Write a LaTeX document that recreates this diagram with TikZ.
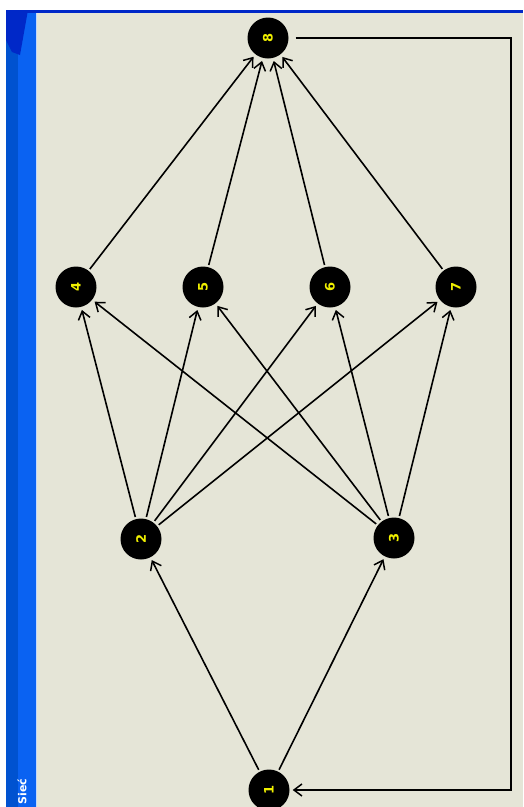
\documentclass[tikz,border=0pt]{standalone}
\usepackage{fontspec}
\usetikzlibrary{arrows.meta}
\usetikzlibrary{positioning}
\usepackage{xcolor}
\newfontfamily\barfont{DejaVu Sans}
\definecolor{panel}{HTML}{E5E5D7}
\definecolor{barblue}{HTML}{0A62F2}
\definecolor{bardark}{HTML}{0052D0}
\definecolor{barnavy}{HTML}{0028C8}
\definecolor{labelyellow}{HTML}{F0F000}

\begin{document}
\begin{tikzpicture}[x=1pt,y=-1pt,
		vertex/.style={circle, fill=black, minimum size=41pt, inner sep=0pt,
			text=labelyellow, font=\barfont\bfseries\fontsize{13}{13}\selectfont, rotate=90},
		link/.style={-{Straight Barb[length=8pt,width=12pt,line width=1.5pt]},
			line width=1.6pt, shorten >=3pt, shorten <=2pt}]
		% window frame
		\useasboundingbox (0,0) rectangle (523,807);
		\fill[white] (0,0) rectangle (523,807);
		\fill[panel] (37,13) rectangle (523,807);
		\fill[barblue] (6,10) rectangle (36,807);
		\fill[bardark] (6,10) rectangle (18,807);
		\fill[barnavy] (6,10) -- (28,10) -- (20,55) -- (12,52) -- (6,40) -- cycle;
		\fill[barnavy] (6,10) rectangle (523,12.5);
		\fill[white!75!barblue] (35.5,13) rectangle (37,807);
		\node[rotate=90, text=white, font=\barfont\bfseries\fontsize{11}{11}\selectfont,
			anchor=west] (title) at (22,808) {Sieć};

		% vertices
		\node[vertex] (n8) at (268,38) {8};
		\node[vertex] (n4) at (76,287) {4};
		\node[vertex] (n5) at (203,287) {5};
		\node[vertex] (n6) at (330,287) {6};
		\node[vertex] (n7) at (456,287) {7};
		\node[vertex] (n2) at (141,539) {2};
		\node[vertex] (n3) at (394,538) {3};
		\node[vertex] (n1) at (269,790) {1};

		% arcs
		\draw[link] (n1) -- (n2);
		\draw[link] (n1) -- (n3);
		\foreach \s in {n2,n3}
			\foreach \t in {n4,n5,n6,n7}
				\draw[link] (\s) -- (\t);
		\foreach \s in {n4,n5,n6,n7}
			\draw[link] (\s) -- (n8);

		% return arc
		\coordinate (top) at (511,38);
		\coordinate (bottom) at (511,790);
		\draw[link, shorten <=7pt] (n8) -- (top) -- (bottom) -- (n1);
	\end{tikzpicture}
\end{document}
